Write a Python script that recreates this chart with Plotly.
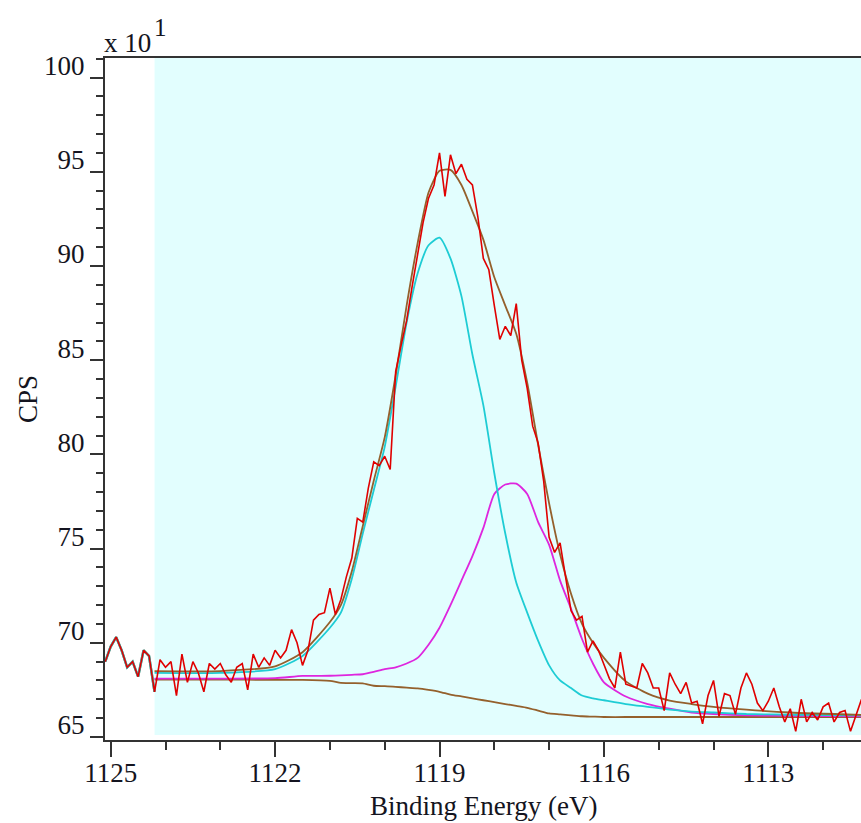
import plotly.graph_objects as go

# ---------------- data ----------------
E_START = 1125.1
E_STEP = 0.1
counts = [
    69.0, 69.8, 70.3, 69.6, 68.7, 69.0, 68.2, 69.6, 69.3, 67.4,
    69.1, 68.7, 69.0, 67.2, 69.4, 67.9, 69.0, 68.4, 67.4, 68.9,
    68.6, 68.9, 68.3, 67.9, 68.7, 68.9, 67.5, 69.4, 68.7, 69.2,
    68.8, 69.6, 69.2, 69.6, 70.7, 70.0, 68.8, 69.6, 71.2, 71.5,
    71.6, 72.9, 71.5, 72.3, 73.5, 74.5, 76.6, 76.4, 78.2, 79.6,
    79.4, 79.9, 79.2, 84.4, 85.8, 87.1, 88.9, 90.5, 92.3, 93.6,
    94.3, 96.0, 93.7, 95.9, 94.9, 95.4, 94.6, 94.3, 92.6, 90.4,
    89.8, 87.9, 86.1, 86.8, 86.3, 88.0, 85.0, 83.5, 81.5, 80.6,
    78.6, 75.6, 74.8, 75.3, 73.6, 71.7, 71.2, 71.4, 69.5, 70.1,
    69.6, 68.9, 68.1, 67.6, 69.5, 67.8, 67.7, 67.6, 68.9, 68.4,
    67.6, 67.6, 66.4, 68.4, 67.8, 67.3, 67.9, 66.8, 66.9, 65.7,
    67.2, 68.0, 66.1, 67.3, 67.2, 66.2, 67.6, 68.4, 67.8, 66.8,
    66.4, 66.9, 67.6, 66.6, 65.8, 66.5, 65.3, 67.0, 65.8, 66.3,
    65.9, 66.6, 66.8, 65.8, 66.3, 66.4, 65.3, 66.2, 67.0,
]
energy = [round(E_START - E_STEP * i, 1) for i in range(len(counts))]
N_LEFT = 10  # points before the fitting region (1125.1 .. 1124.2)

fit_energy = [1124.2, 1123.0, 1122.0, 1121.5, 1121.0, 1120.8, 1120.6, 1120.4,
              1120.2, 1120.0, 1119.8, 1119.6, 1119.4, 1119.2, 1119.0, 1118.8,
              1118.6, 1118.4, 1118.2, 1118.0, 1117.8, 1117.6, 1117.4, 1117.2,
              1117.0, 1116.8, 1116.6, 1116.4, 1116.2, 1116.0, 1115.6, 1115.2,
              1114.8, 1114.4, 1114.0, 1113.4, 1112.6, 1111.3]
background = [68.05, 68.05, 68.03, 68.03, 67.98, 67.87, 67.86, 67.85,
              67.72, 67.70, 67.66, 67.62, 67.58, 67.50, 67.40, 67.25,
              67.15, 67.05, 66.95, 66.85, 66.75, 66.65, 66.55, 66.40,
              66.25, 66.20, 66.15, 66.10, 66.08, 66.06, 66.06, 66.06,
              66.06, 66.06, 66.06, 66.06, 66.06, 66.06]
peak_a = [68.40, 68.40, 68.60, 69.30, 70.80, 71.60, 73.40, 75.80,
          78.10, 80.40, 83.60, 87.00, 89.60, 91.10, 91.50, 90.40,
          88.40, 85.30, 82.60, 79.00, 75.80, 73.20, 71.60, 70.10,
          68.80, 68.00, 67.60, 67.20, 67.05, 66.95, 66.75, 66.60,
          66.45, 66.35, 66.30, 66.22, 66.18, 66.15]
peak_b = [68.10, 68.10, 68.12, 68.24, 68.25, 68.27, 68.30, 68.33,
          68.45, 68.60, 68.70, 68.90, 69.20, 69.90, 70.80, 72.00,
          73.30, 74.60, 76.10, 77.90, 78.40, 78.45, 77.90, 76.40,
          75.20, 73.30, 71.80, 70.20, 68.90, 67.90, 67.15, 66.75,
          66.50, 66.30, 66.22, 66.15, 66.12, 66.10]
envelope = [68.50, 68.50, 68.75, 69.50, 71.10, 72.00, 73.80, 76.20,
            78.60, 80.90, 84.20, 87.90, 91.20, 93.90, 95.05, 95.10,
            94.30, 92.90, 91.40, 89.40, 87.90, 86.40, 83.80, 80.50,
            77.40, 74.70, 72.60, 71.00, 70.00, 69.20, 67.95, 67.30,
            66.93, 66.75, 66.60, 66.45, 66.30, 66.17]

x_ticks = [1125, 1122, 1119, 1116, 1113]
y_ticks = [65, 70, 75, 80, 85, 90, 95, 100]

# ---------------- styling ----------------
RED = "#E00000"
CYAN = "#1ECCD4"
MAGENTA = "#DE26DE"
BROWN = "#94602C"
AXIS = "#333333"
FONT = "Liberation Serif"
TXT = "#141420"
FS = 27

fig = go.Figure()

# region shading (fit region)
fig.add_shape(type="rect", xref="x", yref="paper",
              x0=fit_energy[0], x1=1111.0, y0=0.0075, y1=1.0,
              fillcolor="#E2FEFE", line_width=0, layer="below")

# left part: components follow raw data outside the region
fig.add_trace(go.Scatter(x=energy[:N_LEFT], y=counts[:N_LEFT], mode="lines",
                         line=dict(color=BROWN, width=2.4), hoverinfo="skip"))
fig.add_trace(go.Scatter(x=energy[:N_LEFT], y=counts[:N_LEFT], mode="lines",
                         line=dict(color=CYAN, width=2.4), hoverinfo="skip"))

line_kw = dict(shape="spline", smoothing=0.6)
fig.add_trace(go.Scatter(x=fit_energy, y=background, mode="lines",
                         line=dict(color=BROWN, width=1.8, **line_kw)))
fig.add_trace(go.Scatter(x=fit_energy, y=peak_b, mode="lines",
                         line=dict(color=MAGENTA, width=1.8, **line_kw)))
fig.add_trace(go.Scatter(x=fit_energy, y=peak_a, mode="lines",
                         line=dict(color=CYAN, width=1.8, **line_kw)))
fig.add_trace(go.Scatter(x=fit_energy, y=envelope, mode="lines",
                         line=dict(color=BROWN, width=1.8, **line_kw)))
fig.add_trace(go.Scatter(x=energy, y=counts, mode="lines",
                         line=dict(color=RED, width=1.6)))

fig.update_layout(
    width=861, height=823,
    margin=dict(l=105, r=0, t=58, b=83),
    plot_bgcolor="white", paper_bgcolor="white",
    showlegend=False,
    font=dict(family=FONT, size=FS, color=TXT),
)

fig.update_xaxes(
    range=[1125.104, 1111.309],
    tickmode="array", tickvals=x_ticks, ticktext=[str(v) for v in x_ticks],
    ticks="outside", ticklen=15, tickwidth=2, tickcolor=AXIS,
    showline=True, linecolor=AXIS, linewidth=2, mirror=True,
    showgrid=False, zeroline=False,
    minor=dict(dtick=1, tick0=1113, ticks="outside", ticklen=8,
               tickwidth=2, tickcolor=AXIS, showgrid=False),
    tickfont=dict(family=FONT, size=FS, color=TXT),
    ticklabelstandoff=-7,
)
fig.update_yaxes(
    range=[64.84, 101.04],
    tickmode="array", tickvals=y_ticks, ticktext=[str(v) for v in y_ticks],
    ticks="outside", ticklen=13, tickwidth=2, tickcolor=AXIS,
    showline=True, linecolor=AXIS, linewidth=2, mirror=False,
    showgrid=False, zeroline=False,
    minor=dict(dtick=1, tick0=65, ticks="outside", ticklen=7,
               tickwidth=2, tickcolor=AXIS, showgrid=False),
    tickfont=dict(family=FONT, size=FS, color=TXT),
    ticklabelshift=-12,
)

fig.add_annotation(text="Binding Energy (eV)", xref="paper", yref="paper",
                   x=0.5, y=0, yshift=-66, showarrow=False, yanchor="middle",
                   font=dict(family=FONT, size=FS, color=TXT))
fig.add_annotation(text="CPS", xref="paper", yref="paper", textangle=-90,
                   x=0, xshift=-77, y=0.5, showarrow=False, xanchor="center",
                   font=dict(family=FONT, size=FS, color=TXT))
fig.add_annotation(text="x 10", xref="paper", yref="paper",
                   x=0, xshift=-3, y=1, yshift=15, showarrow=False,
                   xanchor="left", yanchor="middle",
                   font=dict(family=FONT, size=FS, color=TXT))
fig.add_annotation(text="1", xref="paper", yref="paper",
                   x=0, xshift=47, y=1, yshift=31, showarrow=False,
                   xanchor="left", yanchor="middle",
                   font=dict(family=FONT, size=25, color=TXT))

fig.write_html("out.html")
